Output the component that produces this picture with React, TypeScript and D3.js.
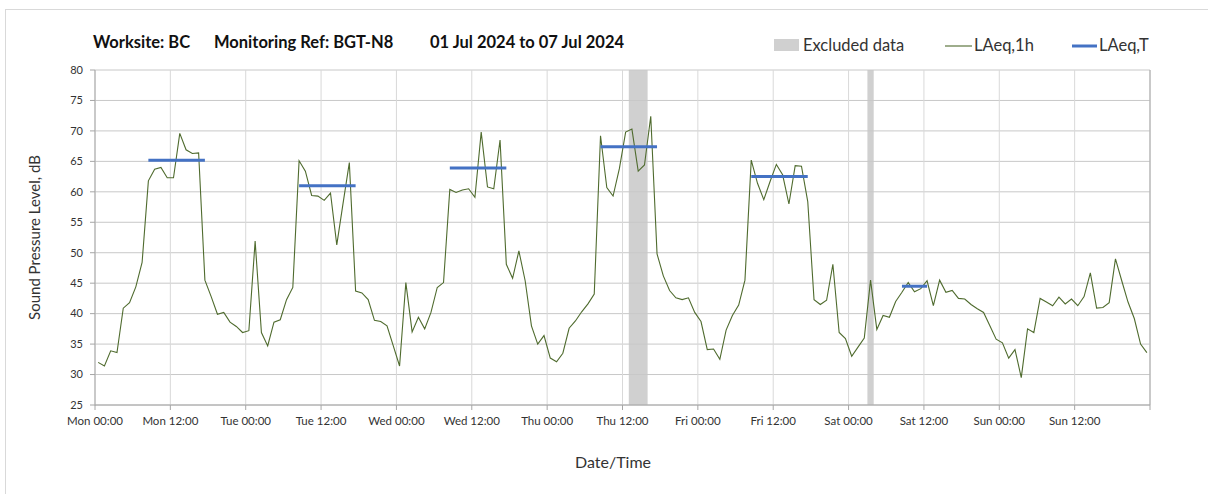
import React, { useEffect } from "react";
import * as d3 from "d3";

// hourly LAeq,1h values, one array per day (00:00 .. 23:00)
const mon = [32.0, 31.4, 33.9, 33.6, 40.9, 41.8, 44.4, 48.4, 61.8, 63.7, 64.0, 62.3, 62.3, 69.6, 66.9, 66.3, 66.4, 45.5, 42.8, 39.9, 40.2, 38.6, 37.9, 36.9];
const tue = [37.2, 51.9, 36.9, 34.7, 38.6, 39.0, 42.3, 44.3, 65.1, 63.4, 59.4, 59.3, 58.6, 59.8, 51.3, 58.1, 64.8, 43.7, 43.4, 42.3, 38.9, 38.7, 38.0, 34.7];
const wed = [31.4, 45.1, 37.0, 39.4, 37.5, 40.2, 44.3, 45.1, 60.4, 59.9, 60.3, 60.5, 59.1, 69.8, 60.8, 60.5, 68.5, 48.1, 45.8, 50.3, 45.4, 38.0, 35.0, 36.4];
const thu = [32.7, 32.1, 33.5, 37.6, 38.8, 40.3, 41.6, 43.2, 69.2, 60.7, 59.3, 63.8, 69.8, 70.3, 63.4, 64.4, 72.4, 49.8, 46.2, 43.8, 42.6, 42.3, 42.6, 40.2];
const fri = [38.7, 34.1, 34.2, 32.5, 37.3, 39.7, 41.4, 45.5, 65.2, 61.4, 58.7, 61.7, 64.5, 62.8, 58.0, 64.3, 64.2, 58.4, 42.3, 41.5, 42.2, 48.1, 36.9, 35.9];
const sat = [33.0, 34.5, 36.0, 45.5, 37.4, 39.7, 39.4, 42.0, 43.5, 45.1, 43.6, 44.1, 45.4, 41.3, 45.5, 43.5, 43.8, 42.5, 42.4, 41.5, 40.8, 40.2, 38.0, 35.8];
const sun = [35.2, 32.7, 34.1, 29.5, 37.5, 36.9, 42.5, 41.9, 41.3, 42.7, 41.6, 42.4, 41.3, 42.8, 46.7, 40.9, 41.0, 41.8, 49.0, 45.4, 41.9, 39.2, 35.0, 33.6];

const days = ["Mon", "Tue", "Wed", "Thu", "Fri", "Sat", "Sun"];

// LAeq,T per day: [day index, first hour, last hour, value]
const laeqT: [number, number, number, number][] = [
  [0, 8, 17, 65.2],
  [1, 8, 17, 61.0],
  [2, 8, 17, 63.9],
  [3, 8, 17, 67.4],
  [4, 8, 17, 62.5],
  [5, 8, 12, 44.5],
];

// excluded periods, hours from Mon 00:00
const excluded: [number, number][] = [
  [85, 88],
  [123, 124],
];

const yTicks = [25, 30, 35, 40, 45, 50, 55, 60, 65, 70, 75, 80];

const titleParts = ["Worksite: BC", "Monitoring Ref: BGT-N8", "01 Jul 2024 to 07 Jul 2024"];

const FONT = "Lato, 'Open Sans', sans-serif";

export default function App() {
  useEffect(() => {
    document.body.style.margin = "0";
  }, []);

  const width = 1208;
  const height = 494;
  const left = 95;
  const right = 1150;
  const top = 70;
  const bottom = 405;

  const hourly = [...mon, ...tue, ...wed, ...thu, ...fri, ...sat, ...sun];

  const x = d3.scaleLinear().domain([0, 168]).range([left, right]);
  const y = d3.scaleLinear().domain([25, 80]).range([bottom, top]);

  const line = d3
    .line<number>()
    .x((d, i) => x(i + 0.5))
    .y((d) => y(d));

  const xTicks = d3.range(0, 169, 12);
  const titleX = [93, 214, 430];

  return (
    <svg width={width} height={height} style={{ display: "block", fontFamily: FONT }}>
      <rect x={0} y={0} width={width} height={height} fill="#fff" />
      <rect x={5.5} y={9.5} width={1210} height={500} fill="none" stroke="#d9d9d9" />

      {/* excluded data */}
      {excluded.map(([a, b], i) => (
        <rect key={i} x={x(a)} y={top} width={x(b) - x(a)} height={bottom - top} fill="#d0d0d0" />
      ))}

      {/* gridlines */}
      {yTicks.map((t) => (
        <line key={t} x1={left} x2={right} y1={y(t)} y2={y(t)} stroke="#c8c8c8" strokeWidth={1} />
      ))}
      {xTicks.map((t) => (
        <line key={t} x1={x(t)} x2={x(t)} y1={top} y2={bottom} stroke="#d9d9d9" strokeWidth={1} />
      ))}
      <line x1={right} x2={right} y1={top} y2={bottom} stroke="#a6a6a6" />
      <line x1={left} x2={left} y1={top} y2={bottom + 0.5} stroke="#a6a6a6" />
      <line x1={left} x2={right} y1={bottom} y2={bottom} stroke="#a6a6a6" />

      {/* ticks */}
      {yTicks.map((t) => (
        <g key={t}>
          <line x1={left - 5} x2={left} y1={y(t)} y2={y(t)} stroke="#a6a6a6" />
          <text x={left - 12} y={y(t)} dy="0.35em" textAnchor="end" fontSize={11} fill="#333">
            {t}
          </text>
        </g>
      ))}
      {xTicks.map((t) => (
        <g key={t}>
          <line x1={x(t)} x2={x(t)} y1={bottom} y2={bottom + 5} stroke="#a6a6a6" />
          {t < 168 && (
            <text x={x(t)} y={bottom + 20} textAnchor="middle" fontSize={11.5} fill="#333">
              {`${days[Math.floor(t / 24)]} ${t % 24 === 0 ? "00:00" : "12:00"}`}
            </text>
          )}
        </g>
      ))}

      {/* LAeq,1h */}
      <path d={line(hourly) || ""} fill="none" stroke="#4f6b2e" strokeWidth={1.1} />

      {/* LAeq,T */}
      {laeqT.map(([d, a, b, v]) => (
        <line
          key={d}
          x1={x(d * 24 + a + 0.5)}
          x2={x(d * 24 + b + 0.5)}
          y1={y(v)}
          y2={y(v)}
          stroke="#4472c4"
          strokeWidth={3}
        />
      ))}

      {/* title */}
      {titleParts.map((s, i) => (
        <text key={s} x={titleX[i]} y={48} fontSize={16.5} fontWeight="bold" fill="#111">
          {s}
        </text>
      ))}

      {/* legend */}
      <rect x={774} y={39} width={25} height={12} fill="#d0d0d0" />
      <text x={803} y={51} fontSize={16.5} fill="#333">Excluded data</text>
      <line x1={945} x2={972} y1={46} y2={46} stroke="#4f6b2e" strokeWidth={1.1} />
      <text x={974} y={51} fontSize={16.5} fill="#333">LAeq,1h</text>
      <line x1={1072} x2={1097} y1={46} y2={46} stroke="#4472c4" strokeWidth={3} />
      <text x={1099} y={51} fontSize={16.5} fill="#333">LAeq,T</text>

      {/* axis titles */}
      <text
        transform={`translate(40, ${(top + bottom) / 2}) rotate(-90)`}
        textAnchor="middle"
        fontSize={15}
        fill="#333"
      >
        Sound Pressure Level, dB
      </text>
      <text x={613} y={468} textAnchor="middle" fontSize={16} fill="#333">
        Date/Time
      </text>
    </svg>
  );
}
